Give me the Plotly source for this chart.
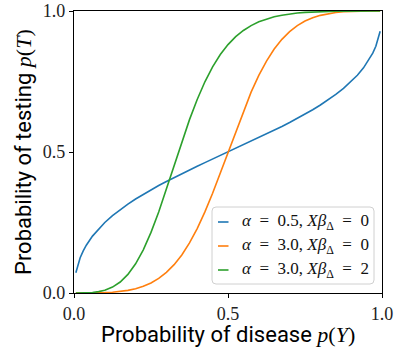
import plotly.graph_objects as go

# probability of disease (x)
p_disease = [0.006, 0.012, 0.02, 0.03, 0.04, 0.06, 0.08, 0.10, 0.125, 0.15, 0.175, 0.20,
             0.225, 0.25, 0.275, 0.30, 0.325, 0.35, 0.375, 0.40, 0.425, 0.45, 0.475, 0.50,
             0.525, 0.55, 0.575, 0.60, 0.625, 0.65, 0.675, 0.70, 0.725, 0.75, 0.775, 0.80,
             0.825, 0.85, 0.875, 0.90, 0.92, 0.94, 0.96, 0.97, 0.98, 0.988, 0.994]

# alpha = 0.5, Xb = 0
p_test_a05 = [0.0721, 0.0993, 0.125, 0.1496, 0.1695, 0.2017, 0.2277, 0.25, 0.2743, 0.2958,
              0.3153, 0.3333, 0.3501, 0.3660, 0.3811, 0.3956, 0.4096, 0.4232, 0.4365, 0.4495,
              0.4623, 0.4749, 0.4875, 0.5, 0.5125, 0.5251, 0.5377, 0.5505, 0.5635, 0.5768,
              0.5904, 0.6044, 0.6189, 0.6340, 0.6499, 0.6667, 0.6847, 0.7042, 0.7257, 0.75,
              0.7723, 0.7983, 0.8305, 0.8504, 0.875, 0.9007, 0.9279]

# alpha = 3.0, Xb = 0
p_test_a3 = [0.0, 0.0, 0.0, 0.00003, 0.00007, 0.00026, 0.00066, 0.00137, 0.00291, 0.00547,
             0.00945, 0.01538, 0.02389, 0.03571, 0.05175, 0.07298, 0.10041, 0.13504, 0.17763,
             0.22857, 0.28764, 0.35392, 0.42549, 0.5, 0.57451, 0.64608, 0.71236, 0.77143,
             0.82237, 0.86496, 0.89959, 0.92702, 0.94825, 0.96429, 0.97612, 0.98462, 0.99055,
             0.99453, 0.99709, 0.99863, 0.99934, 0.99974, 0.99993, 0.99997, 1.0, 1.0, 1.0]

# alpha = 3.0, Xb = 2
p_test_a3_xb2 = [0.0, 0.00001, 0.00006, 0.00022, 0.00053, 0.00192, 0.00483, 0.01003, 0.02109,
                 0.03902, 0.06588, 0.1035, 0.1531, 0.2149, 0.2874, 0.3677, 0.4520, 0.5357,
                 0.6148, 0.6864, 0.7490, 0.8019, 0.8455, 0.8808, 0.9089, 0.9310, 0.9482,
                 0.9615, 0.9716, 0.9793, 0.9851, 0.9895, 0.9927, 0.9950, 0.9967, 0.9979,
                 0.9987, 0.9993, 0.9996, 0.9998, 0.9999, 1.0, 1.0, 1.0, 1.0, 1.0, 1.0]

tick_vals = [0.0, 0.5, 1.0]
tick_text = ["0.0", "0.5", "1.0"]

E = "\u2002"
legend_labels = [
    f"<i>α</i>{E}={E}0.5, <i>Xβ</i><sub>Δ</sub>{E}={E}0",
    f"<i>α</i>{E}={E}3.0, <i>Xβ</i><sub>Δ</sub>{E}={E}0",
    f"<i>α</i>{E}={E}3.0, <i>Xβ</i><sub>Δ</sub>{E}={E}2",
]
colors = ["#1f77b4", "#ff7f0e", "#2ca02c"]
series = [p_test_a05, p_test_a3, p_test_a3_xb2]

SERIF = "Liberation Serif, DejaVu Serif, serif"
SANS = "Roboto, Noto Sans, DejaVu Sans, sans-serif"

# plot-area geometry in pixels (for converting layout positions to paper units)
W, H = 397, 349
ML, MR, MT, MB = 74, 15, 11, 56
PW, PH = W - ML - MR, H - MT - MB


def px_x(px):
    return (px - ML) / PW


def px_y(py):
    return (H - MB - py) / PH


fig = go.Figure()
for lab, col, ys in zip(legend_labels, colors, series):
    fig.add_trace(go.Scatter(x=p_disease, y=ys, mode="lines", name=lab, showlegend=False,
                             line=dict(color=col, width=1.6), cliponaxis=False))

axis_common = dict(
    range=[0, 1], tickvals=tick_vals, ticktext=tick_text, automargin=False,
    showgrid=False, zeroline=False, showline=True, linecolor="black", linewidth=1.3,
    mirror=True, ticks="outside", ticklen=4, tickwidth=1, tickcolor="black",
    tickfont=dict(family=SERIF, size=18, color="#222"),
)

# custom legend (rounded box, short line samples)
bx0, bx1, by0, by1 = px_x(212), px_x(374), px_y(284), px_y(207)
rx, ry = 4 / PW, 4 / PH
box_path = (f"M {bx0+rx},{by0} L {bx1-rx},{by0} Q {bx1},{by0} {bx1},{by0+ry} "
            f"L {bx1},{by1-ry} Q {bx1},{by1} {bx1-rx},{by1} L {bx0+rx},{by1} "
            f"Q {bx0},{by1} {bx0},{by1-ry} L {bx0},{by0+ry} Q {bx0},{by0} {bx0+rx},{by0} Z")
shapes = [dict(type="path", xref="paper", yref="paper", path=box_path,
               fillcolor="rgba(255,255,255,0.85)", line=dict(color="#d0d0d0", width=1))]
annotations = []
row_px = [222, 246, 270]
for lab, col, ry_px in zip(legend_labels, colors, row_px):
    yy = px_y(ry_px)
    shapes.append(dict(type="line", xref="paper", yref="paper", x0=px_x(218), x1=px_x(228.5),
                       y0=yy, y1=yy, line=dict(color=col, width=1.6)))
    annotations.append(dict(xref="paper", yref="paper", x=px_x(240), y=yy, xanchor="left",
                            yanchor="middle", text=lab, showarrow=False,
                            font=dict(family=SERIF, size=17, color="#111")))

annotations.append(dict(
    xref="paper", yref="paper", x=0.5, y=px_y(334), xanchor="center", yanchor="middle",
    showarrow=False, font=dict(family=SANS, size=22, color="black"),
    text='Probability of disease <span style="font-family:Liberation Serif"><i>p</i>(<i>Y</i>)</span>'))
annotations.append(dict(
    xref="paper", yref="paper", x=px_x(23), y=0.5, xanchor="center", yanchor="middle",
    textangle=-90, showarrow=False, font=dict(family=SANS, size=22, color="black"),
    text='Probability of testing <span style="font-family:Liberation Serif"><i>p</i>(<i>T</i>)</span>'))

fig.update_layout(
    width=W, height=H,
    margin=dict(l=ML, r=MR, t=MT, b=MB),
    plot_bgcolor="white", paper_bgcolor="white",
    xaxis=axis_common, yaxis=axis_common,
    shapes=shapes, annotations=annotations,
    showlegend=False,
)

fig.write_html("out.html", config={"displayModeBar": False},
               post_script="document.body.style.margin='0';document.body.style.overflow='hidden';")
